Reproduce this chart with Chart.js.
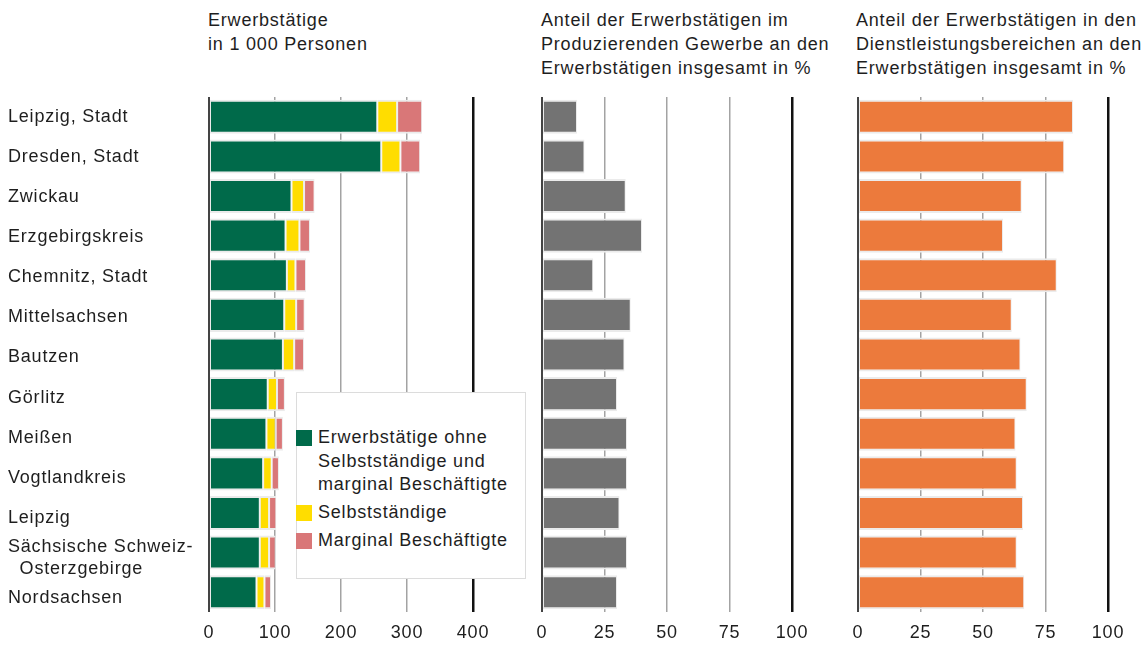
<!DOCTYPE html>
<html><head><meta charset="utf-8">
<script src="https://cdn.jsdelivr.net/npm/chart.js@4.4.1/dist/chart.umd.min.js"></script>
<style>
html,body{margin:0;padding:0;background:#fff;}
body{width:1146px;height:648px;position:relative;overflow:hidden;font-family:"Liberation Sans",Arial,sans-serif;color:#1e1e1e;}
.hdr{position:absolute;top:8px;font-size:18px;line-height:24px;letter-spacing:0.8px;white-space:nowrap;}
canvas{position:absolute;top:0;}
#legend{position:absolute;left:296px;top:392px;width:230px;height:187px;border:1px solid #dcdcdc;background:#fff;box-sizing:border-box;font-size:18px;letter-spacing:0.8px;line-height:23.5px;}
.li{position:absolute;left:-1px;}
.sw{position:absolute;left:0;top:4px;width:16px;height:16px;}
.lt{position:absolute;left:22px;top:0;white-space:nowrap;}
</style>
</head><body>
<div class="hdr" style="left:208px">Erwerbstätige<br>in 1 000 Personen</div>
<div class="hdr" style="left:541px">Anteil der Erwerbstätigen im<br>Produzierenden Gewerbe an den<br>Erwerbstätigen insgesamt in %</div>
<div class="hdr" style="left:856px">Anteil der Erwerbstätigen in den<br>Dienstleistungsbereichen an den<br>Erwerbstätigen insgesamt in %</div>
<canvas id="c1" width="505" height="648" style="left:0;width:505px;height:648px"></canvas>
<canvas id="c2" width="330" height="648" style="left:515px;width:330px;height:648px"></canvas>
<canvas id="c3" width="316" height="648" style="left:830px;width:316px;height:648px"></canvas>
<div id="legend"></div>
<script>
// ---- data ----
const categories = ['Leipzig, Stadt','Dresden, Stadt','Zwickau','Erzgebirgskreis','Chemnitz, Stadt','Mittelsachsen','Bautzen','Görlitz','Meißen','Vogtlandkreis','Leipzig',['Sächsische Schweiz-','  Osterzgebirge'],'Nordsachsen'];
const seriesNames = ['Erwerbstätige ohne\nSelbstständige und\nmarginal Beschäftigte','Selbstständige','Marginal Beschäftigte'];
const employees    = [255,261,125,116,118,114,112,89,87,82,77,77,72];
const selfEmployed = [30,29,19,21,13,18,17,14,14,13,14,14,12];
const marginal     = [38,30,16,16,16,13,15,12,11,11,11,10,10];
const shareIndustry = [14,17,33.5,40,20.5,35.5,33,30,34,34,31,34,30];
const shareServices = [86,82.5,65.5,58,79.5,61.5,65,67.5,63,63.5,66,63.5,66.5];
const ticks1 = [0,100,200,300,400];
const ticks2 = [0,25,50,75,100];

const colors = ['#006a4a','#ffdd00','#d97778'];
const FONT = {family:'"Liberation Sans", Arial, sans-serif', size:18};
const TXT = '#1e1e1e';
const border = {top:2,bottom:2,left:1,right:1};
const haloColor = '#ebebeb';

const lsPlugin = {id:'ls',
  beforeLayout(c){c.ctx.letterSpacing='0.8px';},
  beforeDraw(c){c.ctx.letterSpacing='0.8px';}
};

function xScale(max){
  return {
    type:'linear', min:0, max:max, stacked:true,
    afterBuildTicks(s){ s.ticks = (max===400?ticks1:ticks2).map(v=>({value:v})); },
    afterFit(s){ s.height = 36; },
    border:{display:false},
    grid:{drawTicks:false,
      color:c=> c.tick.value===max ? '#111' : (c.tick.value===0 ? '#444' : '#a3a3a3'),
      lineWidth:c=> c.tick.value===max ? 2.5 : (c.tick.value===0 ? 2 : 1.5)},
    ticks:{padding:10, color:TXT, font:FONT, maxRotation:0, autoSkip:false}
  };
}
function baseOpts(max, left, right, showY){
  const scales = {
    x:xScale(max),
    y:{stacked:true, display:false}
  };
  if (showY) {
    // label axis: category names spaced as in the original print
    scales.yLabels = {
      type:'linear', axis:'y', position:'left', reverse:true, min:-0.5, max:12.35,
      offset:false, grid:{display:false, offset:false}, border:{display:false},
      afterBuildTicks(s){ s.ticks = categories.map((c,i)=>({value:i})); },
      afterFit(s){ s.width = 201; },
      ticks:{crossAlign:'far', color:TXT, font:Object.assign({},FONT,{lineHeight:1.2}), padding:0,
             autoSkip:false, callback:(v)=>categories[v]}
    };
  }
  return {
    indexAxis:'y', responsive:false, animation:false, devicePixelRatio:1,
    layout:{padding:{top:97,bottom:0,left:left,right:right}},
    plugins:{legend:{display:false},tooltip:{enabled:false}},
    scales
  };
}
function ds(label, data, color){
  return {label, data, backgroundColor:color, borderColor:haloColor, borderWidth:border,
          borderSkipped:false, barPercentage:0.86, categoryPercentage:1, yAxisID:'y'};
}

new Chart(document.getElementById('c1'), {
  type:'bar',
  data:{labels:categories, datasets:[
    ds(seriesNames[0], employees, colors[0]),
    ds(seriesNames[1], selfEmployed, colors[1]),
    ds(seriesNames[2], marginal, colors[2])
  ]},
  options:baseOpts(400, 8, 32, true),
  plugins:[lsPlugin]
});
new Chart(document.getElementById('c2'), {
  type:'bar',
  data:{labels:categories, datasets:[ds('Produzierendes Gewerbe', shareIndustry, '#737373')]},
  options:baseOpts(100, 27, 53, false),
  plugins:[lsPlugin]
});
new Chart(document.getElementById('c3'), {
  type:'bar',
  data:{labels:categories, datasets:[ds('Dienstleistungsbereiche', shareServices, '#ec7a3c')]},
  options:baseOpts(100, 28, 38, false),
  plugins:[lsPlugin]
});

// legend
const legend = document.getElementById('legend');
const tops = [33,108,136];
seriesNames.forEach((n,i)=>{
  const d = document.createElement('div'); d.className='li'; d.style.top=tops[i]+'px';
  const sw = document.createElement('div'); sw.className='sw'; sw.style.background=colors[i];
  const t = document.createElement('div'); t.className='lt'; t.innerHTML = n.split('\n').join('<br>');
  d.appendChild(sw); d.appendChild(t); legend.appendChild(d);
});
</script>
</body></html>
